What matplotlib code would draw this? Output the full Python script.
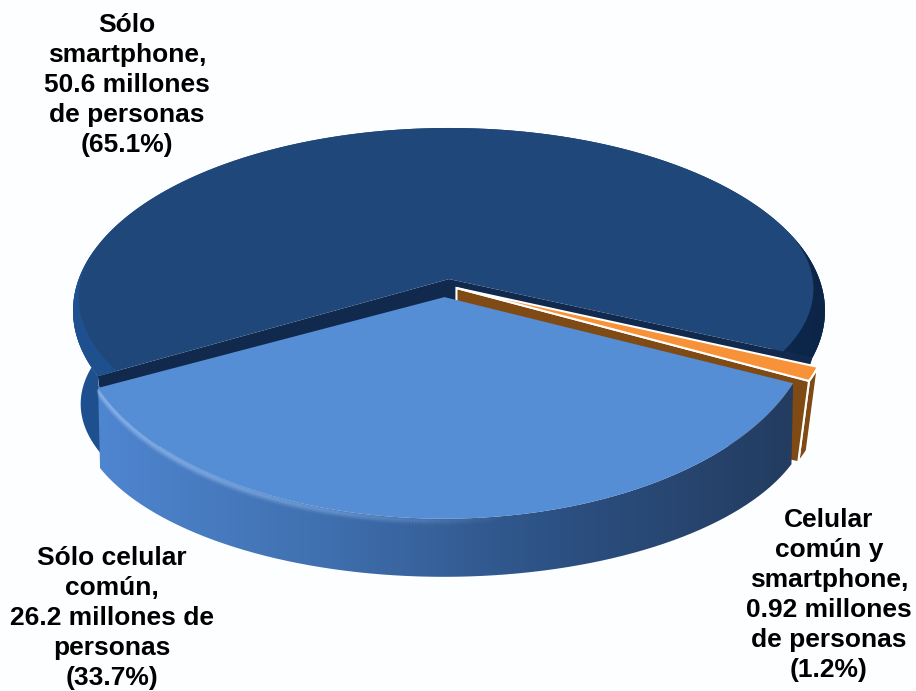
import numpy as np
import matplotlib
matplotlib.use('Agg')
import matplotlib.pyplot as plt
from matplotlib.collections import LineCollection
from matplotlib.colors import LinearSegmentedColormap, to_rgb
from matplotlib.patches import PathPatch, Polygon
from matplotlib.path import Path

# data
categories = ['Sólo\nsmartphone,\n50.6 millones\nde personas\n(65.1%)',
              'Celular\ncomún y\nsmartphone,\n0.92 millones\nde personas\n(1.2%)',
              'Sólo celular\ncomún,\n26.2 millones de\npersonas\n(33.7%)']
shares = [65.1, 1.2, 33.7]

# styles, one per slice
top_colors = ['#1f4779', '#f79239', '#558ed5']
side_stops = [['#1f5190', '#1d4a82', '#143462', '#0c2547'],
              ['#7f4a14', '#7f4a14', '#7f4a14', '#7f4a14'],
              ['#4f86d0', '#3f6fae', '#2c5082', '#233c60']]
# apex offset, then rim centre and radii in the pie plane
apex_off = [(0.0, 0.05), (0.02, 0.0), (-0.012, -0.05)]
rim_shape = [(0.0, 0.05, 1.0, 1.0), (0.02, 0.0, 0.985, 0.985), (-0.012, 0.035, 0.975, 1.08)]
label_pos = [(127, 85), (829, 595), (112, 618)]
start_angle = 210.0

# camera for the tilted pie
cx, cy = 449.0, 288.0
scale_x, scale_y = 373.5, 180.4
persp = 0.175
depth_drop, depth_scale_y, depth_taper = 97.0, 150.0, 0.03


def project(u, v, h=0.0):
    w = 1 + persp * v
    x = cx + scale_x * (1 - depth_taper * h) * u / w
    y = cy + depth_drop * h - (scale_y + h * (depth_scale_y - scale_y)) * v / w
    return np.column_stack([x, y])


def rim(ang1, ang2, shape, h=0.0, n=300, shrink=0.0):
    a = np.radians(np.linspace(ang1, ang2, n))
    k = 1 - shrink * np.linspace(1, 0, n) ** 1.5
    return project(shape[0] + shape[2] * k * np.cos(a), shape[1] + shape[3] * k * np.sin(a), h)


def widen(shape, ru):
    return (shape[0], shape[1], ru, shape[3])


def gradient_fill(ax, pts, stops, zorder, xr=None):
    cmap = LinearSegmentedColormap.from_list('side', stops)
    x0, x1 = xr if xr else (pts[:, 0].min(), pts[:, 0].max())
    y0, y1 = pts[:, 1].min(), pts[:, 1].max()
    im = ax.imshow(np.linspace(0, 1, 256).reshape(1, -1), cmap=cmap, aspect='auto',
                   extent=(x0, x1, y1, y0), zorder=zorder, interpolation='bilinear')
    patch = PathPatch(Path(pts), transform=ax.transData, fc='none', ec='none')
    ax.add_patch(patch)
    im.set_clip_path(patch)


def highlight(ax, ang1, ang2, shape, color, strength, zorder):
    # soft bevel between the top and the side, fading to the right
    for h in np.linspace(0.11, 0.01, 10):
        pts = rim(ang1, ang2, shape, h)
        segs = np.stack([pts[:-1], pts[1:]], axis=1)
        fade = np.clip((520 - pts[:-1, 0]) / 400, 0, 1)
        rgba = np.zeros((len(segs), 4))
        rgba[:, :3] = to_rgb(color)
        rgba[:, 3] = (1 - h / 0.12) * 0.4 * strength * fade
        ax.add_collection(LineCollection(segs, colors=rgba, linewidths=3, zorder=zorder,
                                         capstyle='butt'))


fig = plt.figure(figsize=(9.16, 6.91), dpi=100, facecolor='#fdfeff')
ax = fig.add_axes([0, 0, 1, 1])
ax.axis('off')

# slice angles, clockwise from the start angle
edges = start_angle - np.cumsum([0] + shares) * 3.6
dark_a, dark_b = edges[0], edges[1]
orange_a, orange_b = edges[1], edges[2]
light_a, light_b = edges[2], edges[3]

# dark slice, side drawn in two halves because the foot narrows on the right
shape = rim_shape[0]
pts = np.vstack([rim(dark_a, 90, shape), rim(90, dark_a, widen(shape, 1.01), 1)])
gradient_fill(ax, pts, side_stops[0], 1, (73, 825))
pts = np.vstack([rim(90, dark_b, shape), rim(dark_b, 90, widen(shape, 0.95), 1)])
gradient_fill(ax, pts, side_stops[0], 1, (73, 825))
apex_top = project(*apex_off[0])[0]
apex_bot = project(*apex_off[0], 1)[0]
ax.add_patch(Polygon([apex_top, rim(dark_a, dark_a, shape)[0], rim(dark_a, dark_a, shape, 1)[0], apex_bot],
                     fc='#10294c', ec='none', zorder=2))
ax.add_patch(Polygon([apex_top, rim(dark_b, dark_b, shape)[0], rim(dark_b, dark_b, widen(shape, 0.95), 1)[0], apex_bot],
                     fc='#10294c', ec='none', zorder=2))
ax.add_patch(Polygon(np.vstack([apex_top, rim(dark_a, dark_b, shape)]),
                     fc=top_colors[0], ec='none', zorder=3))
# the top curves in towards both cut edges, the side shows there
pts = np.vstack([rim(dark_a, 170, shape), rim(dark_a, 170, shape, shrink=0.05)[::-1]])
gradient_fill(ax, pts, side_stops[0], 3.5, (73, 825))
pts = np.vstack([rim(dark_b, 15, shape), rim(dark_b, 15, shape, shrink=0.075)[::-1]])
gradient_fill(ax, pts, side_stops[0], 3.5, (73, 825))

# orange slice
shape = rim_shape[1]
apex_top = project(*apex_off[1])[0]
apex_bot = project(*apex_off[1], 1)[0]
pts = np.vstack([rim(orange_a, orange_b, shape), rim(orange_b, orange_a, shape, 1)])
ax.add_patch(Polygon(pts, fc=side_stops[1][0], ec='white', lw=1.5, zorder=4))
face = [apex_top, rim(orange_b, orange_b, shape)[0], rim(orange_b, orange_b, shape, 1)[0], apex_bot]
ax.add_patch(Polygon(face, fc=side_stops[1][0], ec='white', lw=1.5, zorder=4))
ax.add_patch(Polygon(np.vstack([apex_top, rim(orange_a, orange_b, shape)]),
                     fc=top_colors[1], ec='white', lw=1.5, joinstyle='miter', zorder=5))

# light slice
shape = rim_shape[2]
pts = np.vstack([rim(light_a, light_b, shape), rim(light_b, light_a, widen(shape, 1.0), 1)])
gradient_fill(ax, pts, side_stops[2], 6)
highlight(ax, light_a, light_b, shape, '#8fb8ee', 0.8, 6.5)
apex_top = project(*apex_off[2])[0]
ax.add_patch(Polygon(np.vstack([apex_top, rim(light_a, light_b, shape)]),
                     fc=top_colors[2], ec='none', zorder=7))

for label, (x, y) in zip(categories, label_pos):
    ax.text(x, y, label, ha='center', va='center', family=['Liberation Sans', 'DejaVu Sans'],
            fontweight='bold', fontsize=19, linespacing=1.31, color='black', zorder=10)

ax.set_xlim(0, 916)
ax.set_ylim(691, 0)
fig.savefig('out.png', dpi=100, facecolor=fig.get_facecolor())
